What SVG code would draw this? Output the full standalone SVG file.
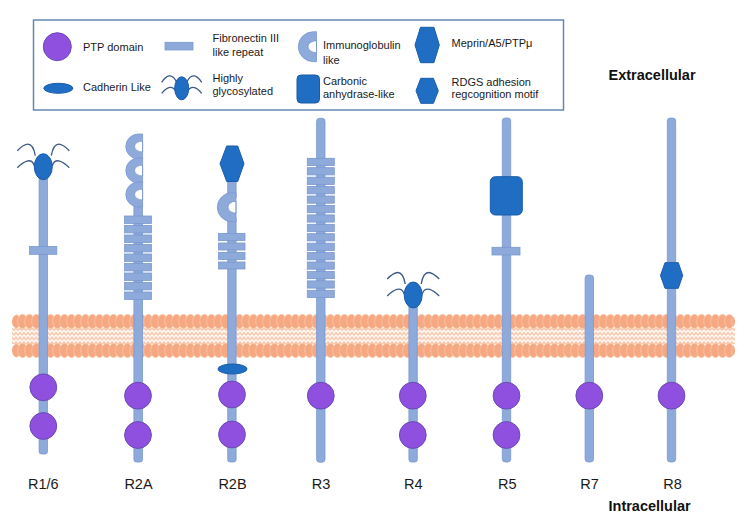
<svg xmlns="http://www.w3.org/2000/svg" width="745" height="521" viewBox="0 0 745 521">
<style>
.t{font-family:"Liberation Sans",Arial,sans-serif;font-size:11px;fill:#1a1a1a}
.lab{font-family:"Liberation Sans",Arial,sans-serif;font-size:14.5px;fill:#1a1a1a;text-anchor:middle}
.bold{font-family:"Liberation Sans",Arial,sans-serif;font-size:14.5px;font-weight:bold;fill:#111}
.stalk{fill:#8eaadb;stroke:#7a98d0;stroke-width:0.8}
.bar{fill:#8eaadb;stroke:#7a98d0;stroke-width:0.8}
.ig{fill:#8eaadb;stroke:#7a98d0;stroke-width:0.8;fill-rule:evenodd}
.ptp{fill:#8f50df;stroke:#6a4bb4;stroke-width:1}
.dk{fill:#1f6ec4;stroke:#1a5ca8;stroke-width:1}
.ant{fill:none;stroke:#3d5a86;stroke-width:1.3}
</style>
<defs>
<pattern id="heads" x="12" y="314" width="7" height="29" patternUnits="userSpaceOnUse">
<g fill="#f5a882" stroke="#fac7ab" stroke-width="0.7">
<ellipse cx="-3.5" cy="7.5" rx="4.8" ry="7.2"/>
<ellipse cx="3.5" cy="7.5" rx="4.8" ry="7.2"/>
<ellipse cx="10.5" cy="7.5" rx="4.8" ry="7.2"/>
</g>
</pattern>
<pattern id="tails" x="12" y="329" width="4" height="4.7" patternUnits="userSpaceOnUse">
<rect width="4" height="4.7" fill="#f9cbb0"/>
<path d="M0,1 L2,3.6 L4,1" fill="none" stroke="#ffffff" stroke-width="1.3"/>
</pattern>
<path id="antL" d="M-26,-16 C-19,-23 -11,-28 -8,-11 M-26,1 C-20,-5 -12,-10 -9,-1"/>
</defs>
<rect width="745" height="521" fill="#ffffff"/>

<g id="legend">
<rect x="33.5" y="20" width="530" height="90" fill="#ffffff" stroke="#6488b4" stroke-width="1.5"/>
<g id="leg-ptp"><circle class="ptp" cx="57.3" cy="46.7" r="14"/><text class="t" x="83" y="50.7">PTP domain</text></g>
<g id="leg-cad"><ellipse class="dk" cx="58.3" cy="88.3" rx="14.5" ry="5"/><text class="t" x="83" y="91">Cadherin Like</text></g>
<g id="leg-fn"><rect class="bar" x="165" y="42.3" width="28" height="7.7"/><text class="t" x="212.5" y="41.7">Fibronectin III</text><text class="t" x="212.5" y="55.5">like repeat</text></g>
<g id="leg-gly"><g transform="translate(181.7,88.3)"><path class="ant" d="M-20,-6 C-16,-12 -10,-17 -5,-6 M-20,5 C-16,0 -10,-5 -5,4"/><path class="ant" transform="scale(-1,1)" d="M-20,-6 C-16,-12 -10,-17 -5,-6 M-20,5 C-16,0 -10,-5 -5,4"/><ellipse class="dk" cx="0" cy="0" rx="7" ry="11.5"/></g><text class="t" x="212.5" y="81.5">Highly</text><text class="t" x="212.5" y="95">glycosylated</text></g>
<g id="leg-ig"><path class="ig" d="M316.5,31.7 L313.3,31.7 A15,15 0 0 0 313.3,61.7 L316.5,61.7 Z M316.5,40.7 A8.5,6 0 0 0 316.5,52.7 Z"/><text class="t" x="323" y="49">Immunoglobulin</text><text class="t" x="323" y="63.5">like</text></g>
<g id="leg-ca"><rect class="dk" x="297" y="75" width="22.5" height="28" rx="4"/><text class="t" x="323" y="85">Carbonic</text><text class="t" x="323" y="98.3">anhydrase-like</text></g>
<g id="leg-mep"><polygon class="dk" points="420.5,27.3 433.9,27.3 439.3,45 433.9,62.7 420.5,62.7 415,45"/><text class="t" x="451.5" y="47.3">Meprin/A5/PTPμ</text></g>
<g id="leg-rdgs"><polygon class="dk" points="420.8,78.3 433.4,78.3 438.3,90.8 433.4,103.3 420.8,103.3 416,90.8"/><text class="t" x="451.5" y="86">RDGS adhesion</text><text class="t" x="451.5" y="98.3">regcognition motif</text></g>
</g>

<text class="bold" x="608.5" y="80">Extracellular</text>
<text class="bold" x="608.5" y="510.7">Intracellular</text>

<g id="membrane">
<rect x="12" y="328" width="723" height="16" fill="url(#tails)"/>
<rect x="12" y="314" width="723" height="15" rx="7" fill="url(#heads)"/>
<rect x="12" y="343" width="723" height="15" rx="7" fill="url(#heads)"/>
</g>

<g id="connectors"></g>

<g id="R1-6">
<rect class="stalk" x="39.1" y="167" width="8.4" height="287" rx="2.5"/>
<rect class="bar" x="29.5" y="246.5" width="27.3" height="7.8"/>
<g transform="translate(43.3,166.7)"><use href="#antL" class="ant"/><use href="#antL" class="ant" transform="scale(-1,1)"/><ellipse class="dk" rx="9" ry="13"/></g>
<circle class="ptp" cx="43.3" cy="387.3" r="13.4"/>
<circle class="ptp" cx="43.3" cy="426" r="13.4"/>
<text class="lab" x="43.3" y="489.3">R1/6</text>
</g>

<g id="R2A">
<rect class="stalk" x="133.9" y="202" width="8.6" height="260" rx="2.5"/>
<path class="ig" d="M142.6,134 L138.3,134 A12.5,12.5 0 0 0 138.3,159 L142.6,159 Z M142.6,141 A8,5.5 0 0 0 142.6,152 Z"/>
<path class="ig" d="M142.6,158 L138.3,158 A12.5,12.5 0 0 0 138.3,183 L142.6,183 Z M142.6,165 A8,5.5 0 0 0 142.6,176 Z"/>
<path class="ig" d="M142.6,182 L138.3,182 A12.5,12.5 0 0 0 138.3,207 L142.6,207 Z M142.6,189 A8,5.5 0 0 0 142.6,200 Z"/>
<rect class="bar" x="124.5" y="216" width="27" height="7.4"/>
<rect class="bar" x="124.5" y="225.5" width="27" height="7.4"/>
<rect class="bar" x="124.5" y="235" width="27" height="7.4"/>
<rect class="bar" x="124.5" y="244.5" width="27" height="7.4"/>
<rect class="bar" x="124.5" y="254" width="27" height="7.4"/>
<rect class="bar" x="124.5" y="263.5" width="27" height="7.4"/>
<rect class="bar" x="124.5" y="273" width="27" height="7.4"/>
<rect class="bar" x="124.5" y="282.5" width="27" height="7.4"/>
<rect class="bar" x="124.5" y="292" width="27" height="7.4"/>
<circle class="ptp" cx="138" cy="395.7" r="13.4"/>
<circle class="ptp" cx="138" cy="435" r="13.4"/>
<text class="lab" x="138.5" y="489.3">R2A</text>
</g>

<g id="R2B">
<rect class="stalk" x="227.7" y="175" width="8.4" height="23" rx="1"/>
<rect class="stalk" x="227.7" y="216" width="8.4" height="246" rx="2.5"/>
<polygon class="dk" points="226.7,146 237.7,146 244,163.7 237.7,181.5 226.7,181.5 220,163.7"/>
<path class="ig" d="M236,192.7 L231.8,192.7 A14.5,14.5 0 0 0 231.8,221.7 L236,221.7 Z M236,201.2 A8,6 0 0 0 236,213.2 Z"/>
<rect class="bar" x="218.5" y="233.5" width="26.5" height="7"/>
<rect class="bar" x="218.5" y="243" width="26.5" height="7"/>
<rect class="bar" x="218.5" y="252.5" width="26.5" height="7"/>
<rect class="bar" x="218.5" y="262" width="26.5" height="7"/>
<ellipse class="dk" cx="232.5" cy="369" rx="14.5" ry="5"/>
<circle class="ptp" cx="232" cy="394.5" r="13.4"/>
<circle class="ptp" cx="232" cy="434.5" r="13.4"/>
<text class="lab" x="232.5" y="489.3">R2B</text>
</g>

<g id="R3">
<rect class="stalk" x="316.6" y="118.3" width="8.4" height="344" rx="3"/>
<rect class="bar" x="307.3" y="158.3" width="27" height="7.2"/>
<rect class="bar" x="307.3" y="167.7" width="27" height="7.2"/>
<rect class="bar" x="307.3" y="177.2" width="27" height="7.2"/>
<rect class="bar" x="307.3" y="186.6" width="27" height="7.2"/>
<rect class="bar" x="307.3" y="196" width="27" height="7.2"/>
<rect class="bar" x="307.3" y="205.5" width="27" height="7.2"/>
<rect class="bar" x="307.3" y="214.9" width="27" height="7.2"/>
<rect class="bar" x="307.3" y="224.3" width="27" height="7.2"/>
<rect class="bar" x="307.3" y="233.7" width="27" height="7.2"/>
<rect class="bar" x="307.3" y="243.2" width="27" height="7.2"/>
<rect class="bar" x="307.3" y="252.6" width="27" height="7.2"/>
<rect class="bar" x="307.3" y="262" width="27" height="7.2"/>
<rect class="bar" x="307.3" y="271.5" width="27" height="7.2"/>
<rect class="bar" x="307.3" y="280.9" width="27" height="7.2"/>
<rect class="bar" x="307.3" y="290.3" width="27" height="7.2"/>
<circle class="ptp" cx="320.8" cy="395.7" r="13.4"/>
<text class="lab" x="321" y="489.3">R3</text>
</g>

<g id="R4">
<rect class="stalk" x="408.9" y="295" width="8.4" height="167" rx="2.5"/>
<g transform="translate(413.2,295)"><use href="#antL" class="ant"/><use href="#antL" class="ant" transform="scale(-1,1)"/><ellipse class="dk" rx="9" ry="13"/></g>
<circle class="ptp" cx="412.8" cy="395.7" r="13.4"/>
<circle class="ptp" cx="412.8" cy="435" r="13.4"/>
<text class="lab" x="413.3" y="489.3">R4</text>
</g>

<g id="R5">
<rect class="stalk" x="502.3" y="118" width="8.4" height="344" rx="3"/>
<rect class="dk" x="490.3" y="176.7" width="32" height="38.3" rx="5"/>
<rect class="bar" x="492" y="247.3" width="28" height="7.7"/>
<circle class="ptp" cx="506.5" cy="395.7" r="13.4"/>
<circle class="ptp" cx="506.5" cy="435" r="13.4"/>
<text class="lab" x="507.3" y="489.3">R5</text>
</g>

<g id="R7">
<rect class="stalk" x="585.1" y="275" width="8.4" height="187" rx="3"/>
<circle class="ptp" cx="589.3" cy="395.7" r="13.4"/>
<text class="lab" x="589.5" y="489.3">R7</text>
</g>

<g id="R8">
<rect class="stalk" x="667.3" y="118" width="8.4" height="344" rx="3"/>
<polygon class="dk" points="665,262.7 678.3,262.7 682.7,275.5 678.3,288.3 665,288.3 660.5,275.5"/>
<circle class="ptp" cx="671.5" cy="395.7" r="13.4"/>
<text class="lab" x="672.5" y="489.3">R8</text>
</g>
</svg>
